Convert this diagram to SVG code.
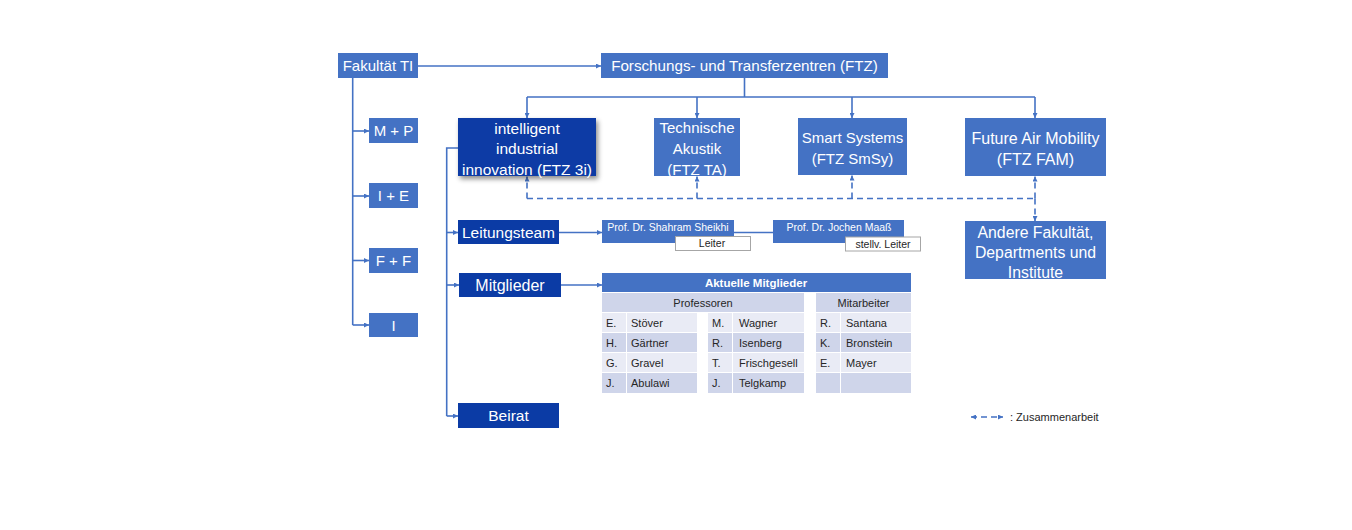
<svg xmlns="http://www.w3.org/2000/svg" width="1352" height="530" viewBox="0 0 1352 530">
<defs>
<marker id="ah" viewBox="0 0 6 6" refX="6" refY="3" markerWidth="5" markerHeight="5" markerUnits="userSpaceOnUse" orient="auto-start-reverse">
<path d="M0,0 L6,3 L0,6 z" fill="#4472C4"/>
</marker>
<filter id="sh" x="-10%" y="-10%" width="130%" height="140%">
<feDropShadow dx="2" dy="3" stdDeviation="2.5" flood-color="#000" flood-opacity="0.45"/>
</filter>
<style>
.mb{fill:#4472C4}
.db{fill:#0B3BA5}
.t{font-family:"Liberation Sans",Arial,sans-serif;fill:#fff;text-anchor:middle}
.s{font-family:"Liberation Sans",Arial,sans-serif;fill:#262626}
.c{stroke:#4472C4;stroke-width:1.6;fill:none}
.d{stroke:#4472C4;stroke-width:1.6;fill:none;stroke-dasharray:6 4}
.lb{fill:#fff;stroke:#A6A6A6;stroke-width:1}
.h1{fill:#CFD5EA}
.h2{fill:#E9EBF5}
</style>
</defs>
<rect width="1352" height="530" fill="#fff"/>

<g id="connectors">
<path class="c" d="M418,66 H601" marker-end="url(#ah)"/>
<path class="c" d="M352.7,78 V325"/>
<path class="c" d="M352.7,131 H369" marker-end="url(#ah)"/>
<path class="c" d="M352.7,196 H369" marker-end="url(#ah)"/>
<path class="c" d="M352.7,260.5 H369" marker-end="url(#ah)"/>
<path class="c" d="M352.7,325 H369" marker-end="url(#ah)"/>
<path class="c" d="M744.5,78 V97 M527,97 H1035"/>
<path class="c" d="M527,97 V118" marker-end="url(#ah)"/>
<path class="c" d="M697,97 V118" marker-end="url(#ah)"/>
<path class="c" d="M852,97 V118" marker-end="url(#ah)"/>
<path class="c" d="M1035,97 V118" marker-end="url(#ah)"/>
<path class="c" d="M458,148 H446.7 V416"/>
<path class="c" d="M446.7,232.5 H458" marker-end="url(#ah)"/>
<path class="c" d="M446.7,285 H459" marker-end="url(#ah)"/>
<path class="c" d="M446.7,416 H458" marker-end="url(#ah)"/>
<path class="c" d="M559,232.5 H602" marker-end="url(#ah)"/>
<path class="c" d="M561,285 H602" marker-end="url(#ah)"/>
<path class="c" d="M734,232.5 H773"/>
<path class="d" d="M527,198.5 H1035"/>
<path class="d" d="M527,198.5 V176.5" marker-end="url(#ah)"/>
<path class="d" d="M697,198.5 V176.5" marker-end="url(#ah)"/>
<path class="d" d="M852,198.5 V175.5" marker-end="url(#ah)"/>
<path class="d" d="M1035,198.5 V176.5" marker-end="url(#ah)"/>
<path class="d" d="M1035,198.5 V221" marker-end="url(#ah)"/>
</g>

<g id="fakultaet"><rect class="mb" x="338" y="53" width="80" height="25"/><text class="t" x="378" y="71" font-size="15">Fakultät TI</text></g>
<g id="ftz"><rect class="mb" x="601" y="53" width="287" height="25"/><text class="t" x="744.5" y="71" font-size="15.2">Forschungs- und Transferzentren (FTZ)</text></g>
<g id="mp"><rect class="mb" x="369" y="118" width="49" height="25"/><text class="t" x="393.5" y="136" font-size="15">M + P</text></g>
<g id="ie"><rect class="mb" x="369" y="183" width="49" height="25"/><text class="t" x="393.5" y="201" font-size="15">I + E</text></g>
<g id="ff"><rect class="mb" x="369" y="248" width="49" height="25"/><text class="t" x="393.5" y="266" font-size="15">F + F</text></g>
<g id="i"><rect class="mb" x="369" y="313" width="49" height="24"/><text class="t" x="393.5" y="330.5" font-size="15">I</text></g>

<g id="ftz3i"><rect class="db" x="458" y="118" width="138" height="58" filter="url(#sh)"/>
<text class="t" font-size="15.5"><tspan x="527" y="133.5">intelligent</tspan><tspan x="527" y="154">industrial</tspan><tspan x="527" y="174.5">innovation (FTZ 3i)</tspan></text></g>
<g id="ftzta"><rect class="mb" x="654" y="118" width="86" height="58"/>
<text class="t" font-size="15"><tspan x="697" y="132.5">Technische</tspan><tspan x="697" y="153.5">Akustik</tspan><tspan x="697" y="175">(FTZ TA)</tspan></text></g>
<g id="ftzsmsy"><rect class="mb" x="798" y="118" width="109" height="57"/>
<text class="t" font-size="15"><tspan x="852.5" y="142.5">Smart Systems</tspan><tspan x="852.5" y="164">(FTZ SmSy)</tspan></text></g>
<g id="ftzfam"><rect class="mb" x="965" y="118" width="141" height="58"/>
<text class="t" font-size="16"><tspan x="1035.5" y="143.5">Future Air Mobility</tspan><tspan x="1035.5" y="165">(FTZ FAM)</tspan></text></g>
<g id="andere"><rect class="mb" x="965" y="221" width="141" height="58"/>
<text class="t" font-size="15.8"><tspan x="1035.5" y="237.5">Andere Fakultät,</tspan><tspan x="1035.5" y="257.5">Departments und</tspan><tspan x="1035.5" y="277.5">Institute</tspan></text></g>

<g id="leitungsteam"><rect class="db" x="458" y="220" width="101" height="24"/><text class="t" x="508.5" y="237.5" font-size="15.5">Leitungsteam</text></g>
<g id="mitglieder"><rect class="db" x="459" y="273" width="102" height="24"/><text class="t" x="510" y="290.5" font-size="16">Mitglieder</text></g>
<g id="beirat"><rect class="db" x="458" y="403" width="101" height="25"/><text class="t" x="508.5" y="421" font-size="15.5">Beirat</text></g>

<g id="sheikhi"><rect class="mb" x="602" y="220" width="132" height="23"/><text class="t" x="668" y="231" font-size="10.5">Prof. Dr. Shahram Sheikhi</text>
<rect class="lb" x="675.5" y="236.5" width="75" height="14"/><text class="s" x="712" y="247" font-size="10.5" text-anchor="middle">Leiter</text></g>
<g id="maass"><rect class="mb" x="773" y="220" width="131" height="23"/><text class="t" x="839" y="231" font-size="10.5">Prof. Dr. Jochen Maaß</text>
<rect class="lb" x="845.5" y="237" width="75" height="14"/><text class="s" x="883" y="247.5" font-size="10.5" text-anchor="middle">stellv. Leiter</text></g>

<g id="tabelle">
<rect class="mb" x="602" y="273" width="309" height="19"/>
<text x="756" y="286.5" font-size="11.5" font-weight="bold" font-family="'Liberation Sans',Arial,sans-serif" fill="#fff" text-anchor="middle">Aktuelle Mitglieder</text>
<rect class="h1" x="602" y="293" width="202" height="19"/>
<rect class="h1" x="816" y="293" width="95" height="19"/>
<text class="s" x="703" y="307" font-size="11" text-anchor="middle">Professoren</text>
<text class="s" x="863.5" y="307" font-size="11" text-anchor="middle">Mitarbeiter</text>
<g>
<rect class="h2" x="602" y="313" width="24" height="19"/><rect class="h2" x="627" y="313" width="70" height="19"/>
<rect class="h2" x="708" y="313" width="24" height="19"/><rect class="h2" x="733" y="313" width="71" height="19"/>
<rect class="h2" x="816" y="313" width="24" height="19"/><rect class="h2" x="841" y="313" width="70" height="19"/>
<rect class="h1" x="602" y="333" width="24" height="19"/><rect class="h1" x="627" y="333" width="70" height="19"/>
<rect class="h1" x="708" y="333" width="24" height="19"/><rect class="h1" x="733" y="333" width="71" height="19"/>
<rect class="h1" x="816" y="333" width="24" height="19"/><rect class="h1" x="841" y="333" width="70" height="19"/>
<rect class="h2" x="602" y="353" width="24" height="19"/><rect class="h2" x="627" y="353" width="70" height="19"/>
<rect class="h2" x="708" y="353" width="24" height="19"/><rect class="h2" x="733" y="353" width="71" height="19"/>
<rect class="h2" x="816" y="353" width="24" height="19"/><rect class="h2" x="841" y="353" width="70" height="19"/>
<rect class="h1" x="602" y="373" width="24" height="20"/><rect class="h1" x="627" y="373" width="70" height="20"/>
<rect class="h1" x="708" y="373" width="24" height="20"/><rect class="h1" x="733" y="373" width="71" height="20"/>
<rect class="h1" x="816" y="373" width="24" height="20"/><rect class="h1" x="841" y="373" width="70" height="20"/>
</g>
<g class="s" font-size="11">
<text x="606" y="327">E.</text><text x="631" y="327">Stöver</text>
<text x="606" y="347">H.</text><text x="631" y="347">Gärtner</text>
<text x="606" y="367">G.</text><text x="631" y="367">Gravel</text>
<text x="606" y="387">J.</text><text x="631" y="387">Abulawi</text>
<text x="712" y="327">M.</text><text x="739" y="327">Wagner</text>
<text x="712" y="347">R.</text><text x="739" y="347">Isenberg</text>
<text x="712" y="367">T.</text><text x="739" y="367">Frischgesell</text>
<text x="712" y="387">J.</text><text x="739" y="387">Telgkamp</text>
<text x="820" y="327">R.</text><text x="846" y="327">Santana</text>
<text x="820" y="347">K.</text><text x="846" y="347">Bronstein</text>
<text x="820" y="367">E.</text><text x="846" y="367">Mayer</text>
</g>
</g>

<g id="legende">
<path class="d" d="M971,417 H1003" stroke-dasharray="5 4" marker-start="url(#ah)" marker-end="url(#ah)"/>
<text class="s" x="1010" y="420.5" font-size="11">: Zusammenarbeit</text>
</g>
</svg>
